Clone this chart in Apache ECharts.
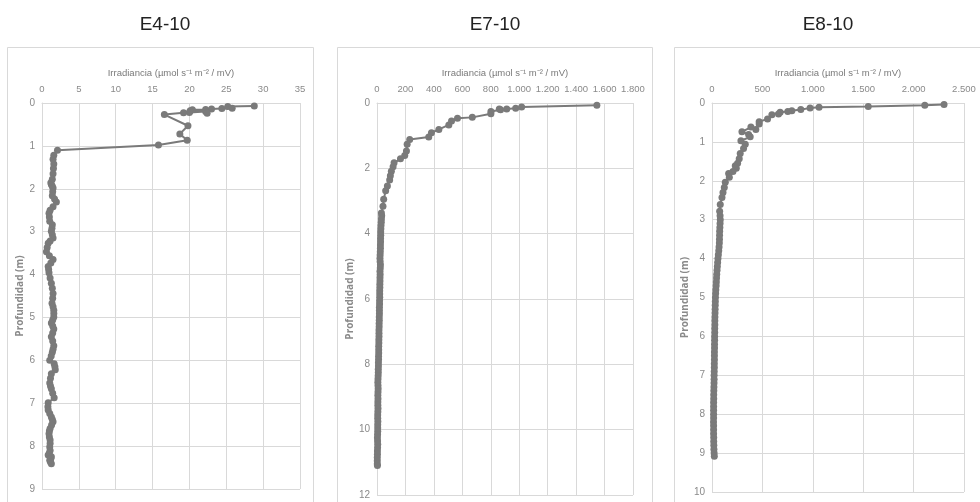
<!DOCTYPE html>
<html>
<head>
<meta charset="utf-8">
<script src="https://cdn.jsdelivr.net/npm/echarts@6/dist/echarts.min.js"></script>
<style>
html,body{margin:0;padding:0;background:#fff;}
#c{width:980px;height:502px;}
</style>
</head>
<body>
<div id="c"></div>
<script>
// ---- Data ----
const titles = ["E4-10", "E7-10", "E8-10"];
const xAxisName = "Irradiancia (µmol s⁻¹ m⁻² / mV)";
const yAxisName = "Profundidad (m)";

// E4-10
const depthE4 = [0.07,0.08,0.12,0.13,0.14,0.15,0.16,0.18,0.2,0.24,0.22,0.23,0.27,0.53,0.72,0.87,0.98,1.1,1.22,1.31,1.42,1.53,1.65,1.78,1.86,1.9,1.94,1.98,2.07,2.16,2.24,2.31,2.42,2.5,2.57,2.66,2.76,2.84,2.92,2.99,3.07,3.15,3.22,3.27,3.37,3.47,3.56,3.65,3.73,3.81,3.88,3.96,4.08,4.2,4.32,4.44,4.55,4.67,4.75,4.83,4.91,4.99,5.06,5.13,5.2,5.27,5.36,5.45,5.55,5.66,5.74,5.81,5.9,6.0,6.08,6.15,6.22,6.31,6.42,6.53,6.6,6.66,6.77,6.87,6.99,7.08,7.16,7.24,7.32,7.38,7.43,7.51,7.59,7.65,7.71,7.79,7.86,7.94,8.02,8.1,8.16,8.21,8.25,8.29,8.33,8.37,8.41];
const irrE4 = [28.8,25.2,25.8,24.4,23.0,22.2,20.4,20.1,22.2,22.4,20.0,19.2,16.6,19.8,18.7,19.7,15.8,2.1,1.6,1.5,1.6,1.55,1.5,1.4,1.2,1.27,1.4,1.5,1.45,1.4,1.7,1.95,1.5,1.1,0.95,1.0,1.05,1.4,1.35,1.27,1.4,1.5,1.1,0.84,0.7,0.6,1.0,1.5,1.2,0.84,0.9,0.95,1.1,1.27,1.4,1.5,1.45,1.36,1.5,1.6,1.6,1.6,1.45,1.27,1.45,1.6,1.45,1.27,1.45,1.6,1.5,1.4,1.25,1.05,1.65,1.75,1.8,1.27,1.15,1.05,1.15,1.27,1.45,1.65,0.84,0.8,0.84,1.05,1.27,1.4,1.5,1.3,1.1,1.0,0.95,1.0,1.1,1.1,1.05,1.1,1.0,0.84,1.27,1.2,1.05,1.15,1.27];

// E7-10
const depthE7 = [0.07,0.12,0.16,0.18,0.21,0.18,0.26,0.33,0.44,0.47,0.55,0.67,0.81,0.91,1.04,1.12,1.26,1.47,1.61,1.71,1.83,1.95,2.09,2.23,2.36,2.54,2.69,2.95,3.16,3.37,3.45,3.55,3.65,3.75,3.85,3.95,4.05,4.15,4.25,4.35,4.45,4.55,4.65,4.75,4.85,4.95,5.05,5.15,5.25,5.35,5.45,5.55,5.65,5.75,5.85,5.95,6.05,6.15,6.25,6.35,6.45,6.55,6.65,6.75,6.85,6.95,7.05,7.15,7.25,7.35,7.45,7.55,7.65,7.75,7.85,7.95,8.05,8.15,8.25,8.35,8.45,8.55,8.65,8.75,8.85,8.95,9.05,9.15,9.25,9.35,9.45,9.55,9.65,9.75,9.85,9.95,10.05,10.15,10.25,10.35,10.45,10.55,10.65,10.75,10.85,10.95,11.05,11.1];
const irrE7 = [1546,1017,975,912,869,860,801,801,670,566,524,505,435,383,364,230,212,207,195,165,120,113,101,94,89,73,61,47,42,31,33,31,30,28,27,26,26,25,25,24,24,23,22,21,22,24,23,21,22,21,21,20,20,19,19,19,18,18,17,17,17,16,16,15,15,14,14,14,13,13,12,12,12,11,11,10,10,9,9,8,7,6,7,8,7,6,7,6,6,7,6,5,5,6,5,5,5,4,3,4,5,4,3,3,2,2,2,3];

// E8-10
const depthE8 = [0.04,0.06,0.09,0.11,0.13,0.17,0.2,0.22,0.24,0.28,0.3,0.41,0.48,0.54,0.68,0.62,0.74,0.81,0.87,0.97,1.06,1.17,1.3,1.43,1.55,1.61,1.68,1.76,1.81,1.91,2.04,2.17,2.3,2.43,2.61,2.78,2.9,3.0,3.1,3.2,3.3,3.4,3.5,3.6,3.7,3.8,3.9,4.0,4.1,4.2,4.3,4.4,4.5,4.6,4.7,4.8,4.9,5.0,5.1,5.2,5.3,5.4,5.5,5.6,5.7,5.8,5.9,6.0,6.1,6.2,6.3,6.4,6.5,6.6,6.7,6.8,6.9,7.0,7.1,7.2,7.3,7.4,7.5,7.6,7.7,7.8,7.9,8.0,8.1,8.2,8.3,8.4,8.5,8.6,8.7,8.8,8.9,9.0,9.08];
const irrE8 = [2302,2111,1550,1062,973,881,792,752,676,660,594,551,468,468,435,386,297,363,379,287,330,313,280,270,254,231,241,208,165,172,132,122,109,99,82,76,80,82,80,78,76,75,74,73,70,67,63,59,56,53,50,47,45,43,41,38,36,34,33,32,31,30,29,28,28,27,27,26,26,25,25,24,24,24,23,23,22,21,21,20,19,18,17,17,16,16,16,16,16,15,16,16,16,17,17,18,19,21,23];

const xMax = [35, 1800, 2500];
const xInterval = [5, 200, 500];
const yMax = [9, 12, 10];
const yInterval = [1, 2, 1];

// ---- Layout ----
const grids = [
  {left: 42, top: 103, width: 258, height: 386},
  {left: 377, top: 103, width: 256, height: 392},
  {left: 712, top: 103, width: 252, height: 389}
];
const titleX = [160, 490, 823];
const boxes = [[7, 47, 306], [337, 47, 315], [674, 47, 330]];

const gridColor = '#d9d9d9';
const labelColor = '#8a8a8a';
const narrow = '"Liberation Sans Narrow", "Liberation Sans", Arial, sans-serif';

function fmt(v) {
  const s = String(Math.round(v));
  return s.replace(/\B(?=(\d{3})+(?!\d))/g, '.');
}

const datasets = [[depthE4, irrE4], [depthE7, irrE7], [depthE8, irrE8]];

const option = {
  backgroundColor: '#fff',
  animation: false,
  title: titles.map((t, i) => ({
    text: t, left: titleX[i], top: 10, textAlign: 'center',
    textStyle: {fontFamily: 'Liberation Sans, Arial, sans-serif', fontSize: 19, fontWeight: 'normal', color: '#222'}
  })),
  graphic: boxes.map(b => ({
    type: 'rect', shape: {x: b[0] + 0.5, y: b[1] + 0.5, width: b[2], height: 480},
    style: {fill: 'none', stroke: gridColor, lineWidth: 1}, silent: true, z: -1
  })),
  grid: grids,
  xAxis: grids.map((g, i) => ({
    type: 'value', gridIndex: i, position: 'top', min: 0, max: xMax[i], interval: xInterval[i],
    name: xAxisName, nameLocation: 'middle', nameGap: 25,
    nameTextStyle: {fontFamily: narrow, fontSize: 9.5, color: '#7a7a7a'},
    axisLine: {show: true, lineStyle: {color: gridColor}},
    axisTick: {show: false},
    axisLabel: {fontFamily: narrow, fontSize: 9.5, color: labelColor, margin: 9, formatter: fmt},
    splitLine: {show: true, lineStyle: {color: gridColor, width: 1}}
  })),
  yAxis: grids.map((g, i) => ({
    type: 'value', gridIndex: i, inverse: true, min: 0, max: yMax[i], interval: yInterval[i],
    name: yAxisName, nameLocation: 'middle', nameGap: 13, nameRotate: 90,
    nameTextStyle: {fontFamily: '"Open Sans", sans-serif', fontSize: 10, fontWeight: 'bold', color: '#8a8a8a'},
    axisLine: {show: true, lineStyle: {color: gridColor}},
    axisTick: {show: false},
    axisLabel: {fontFamily: narrow, fontSize: 10, color: labelColor, margin: 7},
    splitLine: {show: true, lineStyle: {color: gridColor, width: 1}}
  })),
  series: datasets.map((d, i) => ({
    type: 'line', xAxisIndex: i, yAxisIndex: i,
    data: d[0].map((dep, k) => [d[1][k], dep]),
    symbol: 'circle', symbolSize: 7, showSymbol: true,
    itemStyle: {color: '#7a7a7a'},
    lineStyle: {color: '#7a7a7a', width: 2},
    clip: false
  }))
};

const chart = echarts.init(document.getElementById('c'), null, {renderer: 'canvas'});
chart.setOption(option);
</script>
</body>
</html>
